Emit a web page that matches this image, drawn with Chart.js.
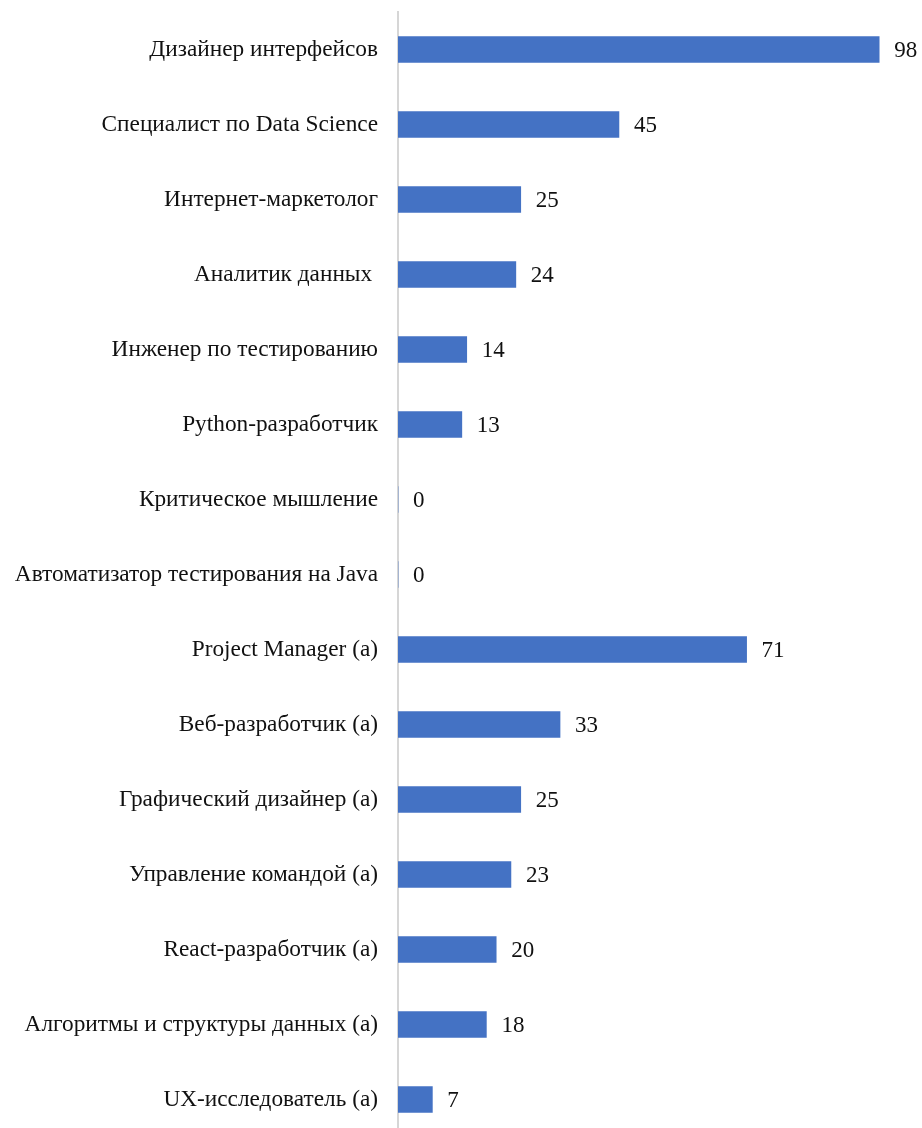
<!DOCTYPE html>
<html>
<head>
<meta charset="utf-8">
<script src="https://cdn.jsdelivr.net/npm/chart.js@4"></script>
<style>
  html, body { margin: 0; padding: 0; background: #fff; overflow: hidden; }
  canvas { display: block; }
</style>
</head>
<body>
<canvas id="chart" width="922" height="1150"></canvas>
<script>
// categories and values, top to bottom
const professions = [
  "Дизайнер интерфейсов",
  "Специалист по Data Science",
  "Интернет-маркетолог",
  "Аналитик данных ",
  "Инженер по тестированию",
  "Python-разработчик",
  "Критическое мышление",
  "Автоматизатор тестирования на Java",
  "Project Manager (a)",
  "Веб-разработчик (a)",
  "Графический дизайнер (a)",
  "Управление командой (a)",
  "React-разработчик (a)",
  "Алгоритмы и структуры данных (a)",
  "UX-исследователь (a)"
];
const counts = [98, 45, 25, 24, 14, 13, 0, 0, 71, 33, 25, 23, 20, 18, 7];

const serif = '"Liberation Serif", "DejaVu Serif", serif';

// draws the number to the right of each bar
const valueLabels = {
  id: "valueLabels",
  afterDatasetsDraw(chart) {
    let ctx = chart.ctx;
    let meta = chart.getDatasetMeta(0);
    ctx.save();
    ctx.font = "23px " + serif;
    ctx.fillStyle = "#111";
    ctx.textAlign = "left";
    ctx.textBaseline = "middle";
    meta.data.forEach((bar, i) => {
      ctx.fillText(String(counts[i]), bar.x + 15, bar.y + 1);
    });
    ctx.restore();
  }
};

new Chart(document.getElementById("chart"), {
  type: "bar",
  data: {
    labels: professions,
    datasets: [{
      data: counts,
      backgroundColor: "#4472C4",
      barThickness: 26
    }]
  },
  options: {
    indexAxis: "y",
    responsive: false,
    devicePixelRatio: 1,
    animation: false,
    layout: { padding: { top: 12, bottom: 13, right: 33 } },
    plugins: {
      legend: { display: false },
      tooltip: { enabled: false }
    },
    scales: {
      x: {
        display: false,
        min: 0,
        max: 100
      },
      y: {
        grid: { display: false, drawTicks: false },
        border: { display: true, color: "#d6d6d6", width: 2 },
        ticks: {
          padding: 20,
          color: "#111",
          font: { family: serif, size: 23.3 }
        },
        afterFit(scale) {
          scale.width = 398;
          scale.paddingTop = 0;
          scale.paddingBottom = 0;
        }
      }
    }
  },
  plugins: [valueLabels]
});
</script>
</body>
</html>
